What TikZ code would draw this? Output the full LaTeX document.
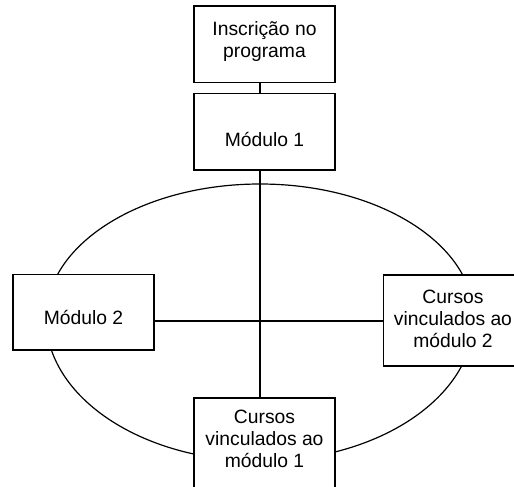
\documentclass[tikz,border=0pt]{standalone}
\usepackage{fontspec}
\setmainfont{Liberation Sans}
\begin{document}
\begin{tikzpicture}[x=1pt,y=-1pt, line width=1.2pt,
  box/.style={draw=black, fill=white, rectangle, inner sep=0pt},
  lbl/.style={anchor=north, inner sep=0pt, align=center, font=\fontsize{19.3}{22.4}\selectfont}]
\useasboundingbox (0,0) rectangle (514,487);
\clip (0,0) rectangle (514,487);
\fill[white] (0,0) rectangle (514,487);
\draw (46,318) arc[start angle=180,end angle=0,x radius=214pt,y radius=134pt]
               arc[start angle=0,end angle=-180,x radius=214pt,y radius=143pt];
\node[box, minimum width=141pt, minimum height=76.5pt] (ins) at (264.5,44.25) {};
\node[box, minimum width=141pt, minimum height=76.5pt] (m1) at (264.5,131.75) {};
\node[box, minimum width=141pt, minimum height=75.5pt] (m2) at (83.5,312.25) {};
\node[box, minimum width=139pt, minimum height=91pt] (k2) at (453,320.5) {};
\node[box, minimum width=141pt, minimum height=91pt] (k1) at (264.5,443.5) {};
\coordinate (vx) at (260,0);
\coordinate (hy) at (0,321);
\draw (vx |- ins.south) -- (vx |- m1.north);
\draw (vx |- m1.south) -- (vx |- k1.north);
\draw (m2.east |- hy) -- (k2.west |- hy);
\node[lbl] (tins) at (264.5,21) {Inscrição no\\programa};
\node[lbl] (tm1) at (264.5,131.5) {Módulo 1};
\node[lbl] (tm2) at (83.5,310) {Módulo 2};
\node[lbl] (tk2) at (453,289) {Cursos\\vinculados ao\\módulo 2};
\node[lbl] (tk1) at (264.5,409) {Cursos\\vinculados ao\\módulo 1};
\end{tikzpicture}
\end{document}
